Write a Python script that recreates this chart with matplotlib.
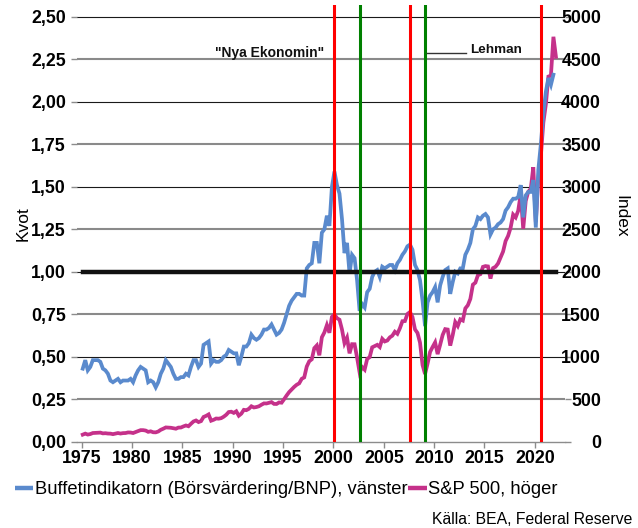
import numpy as np
import matplotlib
matplotlib.use("Agg")
import matplotlib.pyplot as plt
from matplotlib.lines import Line2D

plt.rcParams['font.family'] = ['Liberation Sans', 'DejaVu Sans']

# ---------------- data (quarterly, first quarter = 1975Q1) ----------------
start_year = 1975

buffett = [
    0.43, 0.48, 0.42, 0.44,  0.48, 0.48, 0.48, 0.47,  0.43, 0.42, 0.40, 0.36,
    0.35, 0.36, 0.37, 0.35,  0.36, 0.36, 0.36, 0.37,  0.35, 0.39, 0.42, 0.44,
    0.43, 0.42, 0.35, 0.36,  0.35, 0.32, 0.35, 0.40,  0.43, 0.48, 0.46, 0.44,
    0.40, 0.37, 0.37, 0.38,  0.38, 0.40, 0.39, 0.44,  0.48, 0.48, 0.44, 0.46,
    0.57, 0.58, 0.59, 0.46,  0.48, 0.47, 0.47, 0.48,  0.50, 0.51, 0.54, 0.53,
    0.52, 0.52, 0.45, 0.50,  0.56, 0.56, 0.58, 0.63,  0.61, 0.60, 0.61, 0.63,
    0.66, 0.66, 0.67, 0.69,  0.66, 0.63, 0.64, 0.66,  0.70, 0.75, 0.80, 0.83,
    0.85, 0.87, 0.87, 0.86,  0.86, 1.02, 1.04, 1.05,  1.17, 1.17, 1.05, 1.23,
    1.25, 1.33, 1.27, 1.50,  1.59, 1.51, 1.46, 1.31,  1.11, 1.17, 0.99, 1.10,
    1.08, 0.95, 0.77, 0.81,  0.79, 0.88, 0.90, 0.97,  1.00, 1.01, 0.97, 1.03,
    1.02, 1.03, 1.04, 1.04,  1.01, 1.05, 1.07, 1.10,  1.12, 1.15, 1.16, 1.13,
    1.04, 1.01, 0.95, 0.83,  0.68, 0.82, 0.86, 0.88,  0.91, 0.82, 0.92, 0.97,
    1.01, 1.02, 0.87, 0.94,  1.00, 0.99, 1.02, 1.02,  1.10, 1.13, 1.17, 1.25,
    1.27, 1.32, 1.31, 1.33,  1.34, 1.32, 1.22, 1.25,  1.26, 1.28, 1.29, 1.31,
    1.36, 1.38, 1.41, 1.43,  1.43, 1.44, 1.51, 1.32,  1.45, 1.47, 1.47, 1.54,
    1.26, 1.60, 1.75, 1.93,  2.06, 2.14, 2.10, 2.16,
]

sp500 = [
    83, 95, 84, 90,  102, 104, 105, 107,  98, 100, 96, 95,  89, 95, 102, 96,
    101, 102, 109, 108,  102, 114, 125, 136,  136, 131, 116, 122,  111, 110, 120, 140,
    153, 168, 166, 164,  159, 153, 166, 167,  180, 191, 182, 211,  238, 250, 231, 242,
    291, 304, 321, 247,  258, 273, 271, 277,  294, 317, 349, 353,  339, 358, 306, 330,
    375, 371, 387, 417,  403, 408, 417, 435,  451, 450, 458, 466,  445, 444, 462, 459,
    500, 544, 584, 615,  645, 670, 687, 740,  757, 885, 947, 970,  1101, 1133, 1017, 1229,
    1286, 1372, 1282, 1469,  1498, 1454, 1436, 1320,  1160, 1224, 1040, 1148,
    1147, 989, 815, 879,  848, 974, 995, 1111,  1126, 1140, 1114, 1211,
    1180, 1191, 1228, 1248,  1294, 1270, 1335, 1418,  1420, 1503, 1526, 1468,
    1322, 1280, 1166, 903,  797, 919, 1057, 1115,  1169, 1031, 1141, 1257,
    1325, 1320, 1131, 1257,  1408, 1362, 1440, 1426,  1569, 1606, 1681, 1848,
    1872, 1960, 1972, 2058,  2067, 2063, 1920, 2043,  2059, 2098, 2168, 2238,
    2362, 2423, 2519, 2673,  2640, 2718, 2914, 2506,  2834, 2942, 2977, 3231,
    2585, 3100, 3363, 3756,  3973, 4298, 4308, 4766,  4530,
]

ref_level = 1.0

event_quarters = ["2000Q1", "2002Q3", "2007Q3", "2009Q1", "2020Q3"]
event_colors = ["#FF0000", "#008000", "#FF0000", "#008000", "#FF0000"]

left_ticks = [0.0, 0.25, 0.5, 0.75, 1.0, 1.25, 1.5, 1.75, 2.0, 2.25, 2.5]
right_ticks = [0, 500, 1000, 1500, 2000, 2500, 3000, 3500, 4000, 4500, 5000]
year_ticks = [1975, 1980, 1985, 1990, 1995, 2000, 2005, 2010, 2015, 2020]

labels = {
    "blue": "Buffetindikatorn (Börsvärdering/BNP), vänster",
    "pink": "S&P 500, höger",
    "left": "Kvot",
    "right": "Index",
    "source": "Källa: BEA, Federal Reserve",
    "ann1": "\"Nya Ekonomin\"",
    "ann2": "Lehman",
}

# ---------------- helpers ----------------
def qpos(i):
    return start_year + 0.1 + np.asarray(i) / 4.0

def qstr_pos(s):
    y, q = s.split("Q")
    return qpos((int(y) - start_year) * 4 + int(q) - 1)

x_b = qpos(np.arange(len(buffett)))
x_s = qpos(np.arange(len(sp500)))
event_x = [qstr_pos(s) for s in event_quarters]

BLUE = "#5A8ACD"
PINK = "#C5318A"

fig = plt.figure(figsize=(6.38, 5.28), dpi=100)
ax = fig.add_axes([77 / 638, 1 - 441.7 / 528, (565 - 77) / 638, (441.7 - 5) / 528])
ax2 = ax.twinx()
ax.set_zorder(ax2.get_zorder() + 1)
ax.patch.set_visible(False)

ytop = 2.57
ax.set_ylim(0, ytop)
ax2.set_ylim(0, ytop * 2000)
ax.set_xlim(1974.53, 2023.0)

# gridlines (on the right axis so they sit under the S&P line)
for k, t in enumerate(right_ticks[1:], start=1):
    if k % 2 == 0:
        ax2.axhline(t, color="#1a1a1a", lw=0.8, zorder=0)
    else:
        ax2.axhline(t, color="#8a8a8a", lw=1.5, zorder=0)

ax2.plot(x_s, sp500, color=PINK, lw=2.7, solid_joinstyle="miter", zorder=2)
ax.plot(x_b, buffett, color=BLUE, lw=2.7, solid_joinstyle="miter", zorder=2)
ax.plot(x_s, [ref_level] * len(x_s), color="#111111", lw=3.2, zorder=3)

for xv, c in zip(event_x, event_colors):
    ax.axvline(xv, color=c, lw=2.2, zorder=4)

# annotations
ax.text(1993.7, 2.29, labels["ann1"], ha="center", va="center",
        fontsize=10, fontweight="bold", color="#111111")
ax.plot([event_x[3] + 0.15, 2013.2], [2.29, 2.29], color="#333333", lw=1.0, zorder=4)
ax.text(2013.55, 2.305, labels["ann2"], ha="left", va="center",
        fontsize=9.7, fontweight="bold", color="#111111")

# spines
for a in (ax, ax2):
    for s in ("top", "left", "right"):
        a.spines[s].set_visible(False)
ax2.spines["bottom"].set_visible(False)
ax.spines["bottom"].set_color("#8c8c8c")
ax.spines["bottom"].set_linewidth(1.0)

# ticks
ax.set_yticks(left_ticks)
ax.set_yticklabels([f"{t:.2f}".replace(".", ",") for t in left_ticks])
ax.tick_params(axis="y", length=4, width=1, color="#8c8c8c", pad=4,
               labelsize=12.8)
for lab in ax.get_yticklabels():
    lab.set_fontweight("bold")

ax2.set_yticks(right_ticks)
ax2.set_yticklabels([str(t) for t in right_ticks])
ax2.tick_params(axis="y", length=4, width=1, color="#8c8c8c", pad=22,
                labelsize=12.8)
for lab in ax2.get_yticklabels():
    lab.set_fontweight("bold")
    lab.set_horizontalalignment("right")

ax.set_xticks(year_ticks)
ax.set_xticklabels([str(y) for y in year_ticks])
ax.tick_params(axis="x", length=4, width=1, color="#8c8c8c", pad=2,
               labelsize=12.8)
for lab in ax.get_xticklabels():
    lab.set_fontweight("bold")

# axis titles
fig.text(23 / 638, 1 - 224 / 528, labels["left"], rotation=90,
         ha="center", va="center", fontsize=12.5)
fig.text(621 / 638, 1 - 216 / 528, labels["right"], rotation=270,
         ha="center", va="center", fontsize=12.5)

# legend
handles = [Line2D([], [], color=BLUE, lw=3.2, solid_capstyle="butt"),
           Line2D([], [], color=PINK, lw=3.2, solid_capstyle="butt")]
fig.legend(handles, [labels["blue"], labels["pink"]], loc="center left",
           bbox_to_anchor=(15 / 638, 1 - 490 / 528), ncol=2, frameon=False,
           fontsize=13.2, handlelength=1.0, handletextpad=0.08,
           columnspacing=0.05, borderpad=0, borderaxespad=0)

fig.text(632 / 638, 1 - 519 / 528, labels["source"], ha="right", va="center",
         fontsize=11.3)

fig.savefig("out.png", dpi=100)
